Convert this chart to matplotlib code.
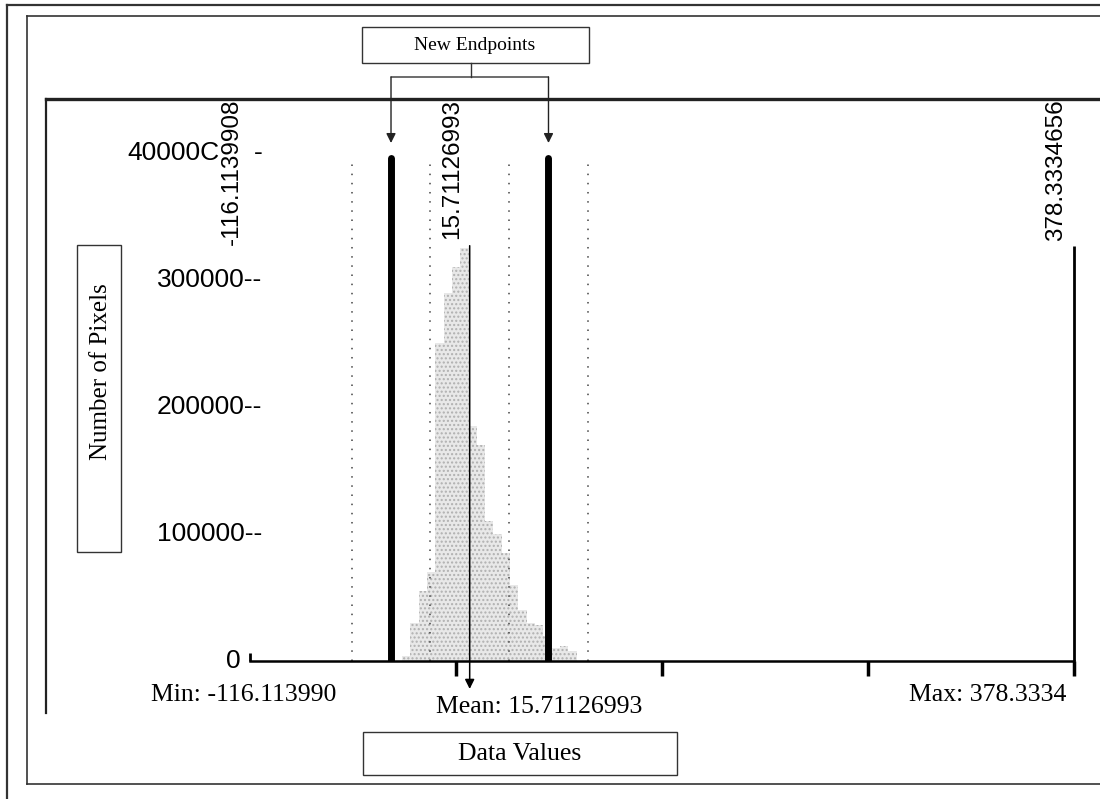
import matplotlib
matplotlib.use("Agg")
import matplotlib.pyplot as plt
from matplotlib.lines import Line2D
from matplotlib.patches import Rectangle

# --- data ---
x_min = -116.113990
x_max = 378.3334656
x_mean = 15.71126993
min_label = "-116.1139908"
mean_label = "15.71126993"
max_label = "378.3334656"

# histogram bins (left edges, data units) and pixel counts
bin_left = [-25, -20, -15, -10, -5, 0, 5, 10, 15, 20, 25, 30, 35, 40, 45, 50, 55, 60, 65, 70, 75]
bin_counts = [4000, 30000, 55000, 70000, 250000, 290000, 310000, 325000, 185000, 170000,
              110000, 100000, 85000, 60000, 40000, 30000, 28000, 20000, 10000, 12000, 8000]
bin_width = 5

endpoints = [-31.5, 63.0]          # new endpoints (thick lines)
endpoint_height = 396000
guides = [-55.1, -7.9, 39.3, 86.5]  # dotted lines
guide_height = 394000
mean_height = 327000
max_height = 327000

x_ticks = [7.5, 131.1, 254.7, 378.33]
y_ticks = [100000, 200000, 300000]
y_labels = ["100000--", "200000--", "300000--"]
top_tick = 400000
top_label = "40000C"

W, H = 1100, 799
fig = plt.figure(figsize=(W / 100, H / 100), dpi=100)


def px(x, y):
    return x / W, 1 - y / H


def fig_line(x0, y0, x1, y1, lw=1.5, color="#333333"):
    (a, b), (c, d) = px(x0, y0), px(x1, y1)
    fig.add_artist(Line2D([a, c], [b, d], transform=fig.transFigure, lw=lw, color=color))


def fig_box(x0, y0, x1, y1, lw=1.0):
    a, b = px(x0, y1)
    fig.add_artist(Rectangle((a, b), (x1 - x0) / W, (y1 - y0) / H, transform=fig.transFigure,
                             fill=False, lw=lw, edgecolor="#333333"))


serif = ["Liberation Serif", "DejaVu Serif"]
sans = ["Liberation Sans", "DejaVu Sans"]

# frames
fig_line(7, 5, 1100, 5, lw=1.6)
fig_line(7, 5, 7, 799, lw=1.6)
fig_line(27, 16, 1100, 16, lw=1.2)
fig_line(27, 16, 27, 784, lw=1.2)
fig_line(27, 784, 1100, 784, lw=1.2)
fig_line(46, 99, 1100, 99, lw=2.4, color="#222222")
fig_line(46, 99, 46, 713, lw=1.6, color="#222222")

# data axes
ax = fig.add_axes([250 / W, (H - 661) / H, 824 / W, 562 / H])
ax.set_xlim(x_min, x_max)
ax.set_ylim(0, 442500)
ax.patch.set_alpha(0)
for s in ["top", "left", "right"]:
    ax.spines[s].set_visible(False)
ax.spines["bottom"].set_linewidth(1.8)
ax.set_xticks(x_ticks)
ax.set_xticklabels([])
ax.set_xticks([x_min], minor=True)
ax.tick_params(axis="x", which="major", direction="out", length=11, width=2.5)
ax.tick_params(axis="x", which="minor", direction="in", length=6, width=2)
ax.set_yticks([])

ax.bar(bin_left, bin_counts, width=bin_width, align="edge", color="#e8e8e8",
       edgecolor="#b0b0b0", hatch="....", linewidth=0)

ax.vlines(guides, 0, guide_height, colors="#444444", linestyles=(0, (1, 5)), lw=1.1)
ax.vlines(endpoints, 0, endpoint_height, colors="black", lw=5, capstyle="round")
ax.vlines(x_max, 0, max_height, colors="black", lw=2, clip_on=False)
ax.annotate("", xy=(x_mean, -22000), xytext=(x_mean, mean_height), annotation_clip=False,
            arrowprops=dict(arrowstyle="-|>", color="black", lw=1.1, mutation_scale=14,
                            shrinkA=0, shrinkB=0))

# rotated value labels above lines
for v, lab in [(x_min, min_label), (x_mean, mean_label), (x_max, max_label)]:
    ax.annotate(lab, xy=(v, 1), xycoords=("data", "axes fraction"), xytext=(-5, 0),
                textcoords="offset points", rotation=90, ha="right", va="top",
                fontsize=17.5, family=sans, annotation_clip=False)

# y labels
for v, lab in zip(y_ticks, y_labels):
    ax.annotate(lab, xy=(0, v), xycoords=("axes fraction", "data"), xytext=(9, 0),
                textcoords="offset points", ha="right", va="center", fontsize=19,
                family=sans, annotation_clip=False)
ax.annotate(top_label, xy=(0, top_tick), xycoords=("axes fraction", "data"), xytext=(-22, 0),
            textcoords="offset points", ha="right", va="center", fontsize=19,
            family=sans, annotation_clip=False)
ax.annotate("-", xy=(0, top_tick), xycoords=("axes fraction", "data"), xytext=(9, 0),
            textcoords="offset points", ha="right", va="center", fontsize=19,
            family=sans, annotation_clip=False)
ax.annotate("0", xy=(0, 0), xycoords=("axes fraction", "data"), xytext=(-7, 0),
            textcoords="offset points", ha="right", va="center", fontsize=19,
            family=sans, annotation_clip=False)

# "New Endpoints" callout
fig_box(362, 27, 589, 63)
fig.text(*px(475, 45), "New Endpoints", ha="center", va="center", fontsize=14, family=serif)
fig_line(471, 63, 471, 77, lw=1.0)
y_bar = (661 - 77) / 562
y_tip = (661 - 143) / 562
ax.annotate("", xy=(endpoints[0], y_bar), xytext=(endpoints[1], y_bar),
            xycoords=("data", "axes fraction"), textcoords=("data", "axes fraction"),
            annotation_clip=False,
            arrowprops=dict(arrowstyle="-", color="#333333", lw=1.0, shrinkA=0, shrinkB=0))
for e in endpoints:
    ax.annotate("", xy=(e, y_tip), xytext=(e, y_bar),
                xycoords=("data", "axes fraction"), textcoords=("data", "axes fraction"),
                annotation_clip=False,
                arrowprops=dict(arrowstyle="-|>", color="#222222", lw=1.0, mutation_scale=14,
                                shrinkA=0, shrinkB=0))

# axis titles in boxes
fig_box(77, 245, 121, 552)
fig.text(*px(101, 372), "Number of Pixels", rotation=90, ha="center", va="center",
         fontsize=18, family=serif)
fig_box(363, 732, 677, 775)
fig.text(*px(520, 754), "Data Values", ha="center", va="center", fontsize=18.5, family=serif)

# min / mean / max captions
fig.text(*px(244, 695), "Min: -116.113990", ha="center", va="center", fontsize=18.5, family=serif)
fig.text(*px(539, 707), "Mean: 15.71126993", ha="center", va="center", fontsize=18.5, family=serif)
fig.text(*px(988, 695), "Max: 378.3334", ha="center", va="center", fontsize=18.5, family=serif)

fig.savefig("out.png", dpi=100)
